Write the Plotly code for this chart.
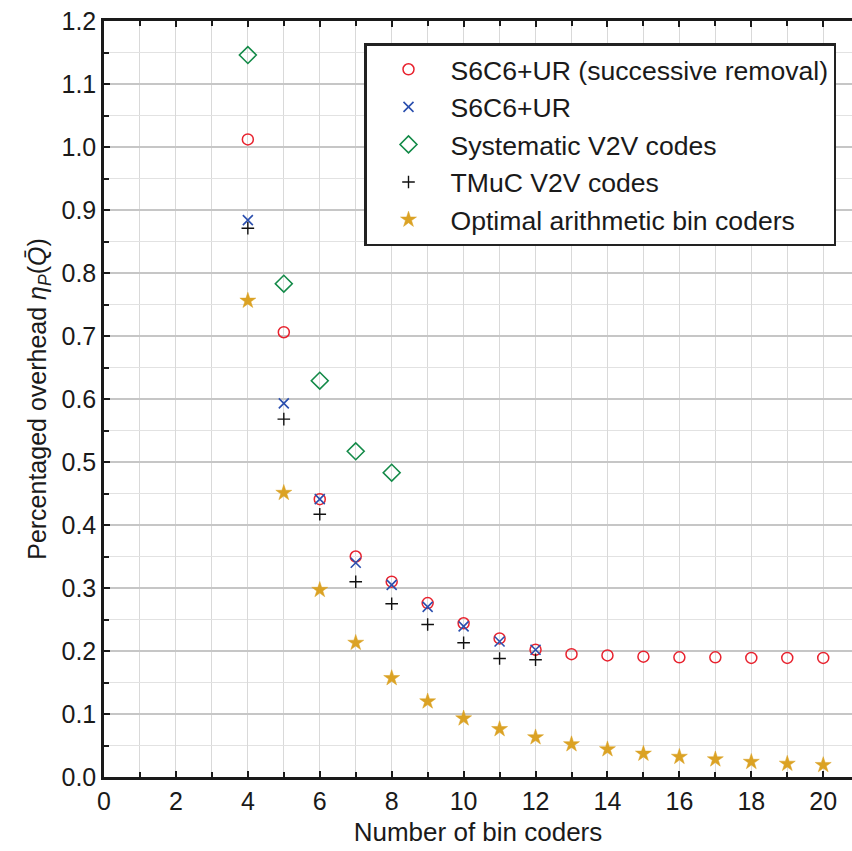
import plotly.graph_objects as go

# Number of bin coders on the x axis
bins_full = [4, 5, 6, 7, 8, 9, 10, 11, 12, 13, 14, 15, 16, 17, 18, 19, 20]
bins_short = [4, 5, 6, 7, 8, 9, 10, 11, 12]
bins_sys = [4, 5, 6, 7, 8]

# Percentaged overhead per coder configuration
s6c6_succ = [1.012, 0.706, 0.441, 0.350, 0.310, 0.276, 0.244, 0.220, 0.202,
             0.195, 0.193, 0.191, 0.190, 0.190, 0.189, 0.189, 0.189]
s6c6_ur = [0.884, 0.593, 0.441, 0.340, 0.305, 0.270, 0.239, 0.215, 0.202]
systematic_v2v = [1.146, 0.783, 0.629, 0.517, 0.483]
tmuc_v2v = [0.871, 0.568, 0.417, 0.310, 0.275, 0.242, 0.213, 0.188, 0.186]
optimal_arith = [0.756, 0.451, 0.297, 0.213, 0.157, 0.120, 0.093, 0.076, 0.063,
                 0.052, 0.044, 0.037, 0.032, 0.028, 0.024, 0.021, 0.019]

x_ticks = list(range(0, 21, 2))
y_ticks = [round(0.1 * i, 1) for i in range(13)]

FONT = "Liberation Sans, Arial, Helvetica, sans-serif"

fig = go.Figure()

fig.add_trace(go.Scatter(
    x=bins_full, y=s6c6_succ, mode="markers",
    name="S6C6+UR (successive removal)", legendgroup="a",
    marker=dict(symbol="circle-open", size=11, color="#e8222e",
                line=dict(width=1.5, color="#e8222e")),
))
fig.add_trace(go.Scatter(
    x=bins_short, y=s6c6_ur, mode="markers",
    name="S6C6+UR", legendgroup="b",
    marker=dict(symbol="x-thin-open", size=10, color="#2b4fae",
                line=dict(width=1.6, color="#2b4fae")),
))
fig.add_trace(go.Scatter(
    x=bins_sys, y=systematic_v2v, mode="markers",
    name="Systematic V2V codes", legendgroup="c",
    marker=dict(symbol="diamond-open", size=13, color="#138a48",
                line=dict(width=1.6, color="#138a48")),
))
fig.add_trace(go.Scatter(
    x=bins_short, y=tmuc_v2v, mode="markers",
    name="TMuC V2V codes", legendgroup="d",
    marker=dict(symbol="cross-thin-open", size=9, color="#111111",
                line=dict(width=1.4, color="#111111")),
))
fig.add_trace(go.Scatter(
    x=bins_full, y=optimal_arith, mode="markers",
    name="Optimal arithmetic bin coders", legendgroup="e",
    marker=dict(symbol="star", size=12, color="#dba224",
                line=dict(width=0.5, color="#dba224")),
))

axis_line = "#1a1a1a"

fig.update_layout(
    width=852, height=851,
    margin=dict(l=104, r=0, t=21, b=74),
    plot_bgcolor="white", paper_bgcolor="white",
    font=dict(family=FONT, size=25, color="#1a1a1a"),
    showlegend=True,
    legend=dict(
        x=(364 - 104) / 748, y=(777 - 43) / 756,
        xanchor="left", yanchor="top",
        bgcolor="white", bordercolor="#222222", borderwidth=2.5,
        font=dict(family=FONT, size=26.6, color="#1a1a1a"),
        traceorder="grouped", tracegroupgap=0,
        itemwidth=74,
    ),
    xaxis=dict(
        range=[0, 20.8],
        tickmode="array", tickvals=x_ticks, ticktext=[str(v) for v in x_ticks],
        ticks="inside", ticklen=6, tickwidth=1.5, tickcolor=axis_line,
        showline=True, linecolor=axis_line, linewidth=2.5, mirror="allticks",
        showgrid=True, gridcolor="#d9d9d9", gridwidth=1.2,
        minor=dict(dtick=1, tick0=0, ticks="inside", ticklen=5, tickwidth=1.5,
                   tickcolor=axis_line, showgrid=True,
                   gridcolor="#d9d9d9", gridwidth=1.2),
        zeroline=False,
        title=dict(text="Number of bin coders", font=dict(size=26), standoff=10),
        tickfont=dict(size=25),
    ),
    yaxis=dict(
        range=[0, 1.2],
        tickmode="array", tickvals=y_ticks, ticktext=[f"{v:.1f}" for v in y_ticks],
        ticks="inside", ticklen=6, tickwidth=1.5, tickcolor=axis_line,
        showline=True, linecolor=axis_line, linewidth=2.5, mirror=False,
        showgrid=True, gridcolor="#c6c6c6", gridwidth=1.6,
        minor=dict(dtick=0.05, tick0=0, ticks="inside", ticklen=5, tickwidth=1.5,
                   tickcolor=axis_line, showgrid=True,
                   gridcolor="#e2e2e2", gridwidth=1),
        zeroline=False,
        title=dict(text="Percentaged overhead <i>η<sub>P</sub></i>(<i>Q̄</i>)",
                   font=dict(size=25), standoff=8),
        tickfont=dict(size=25),
    ),
)

fig.write_html("out.html")
